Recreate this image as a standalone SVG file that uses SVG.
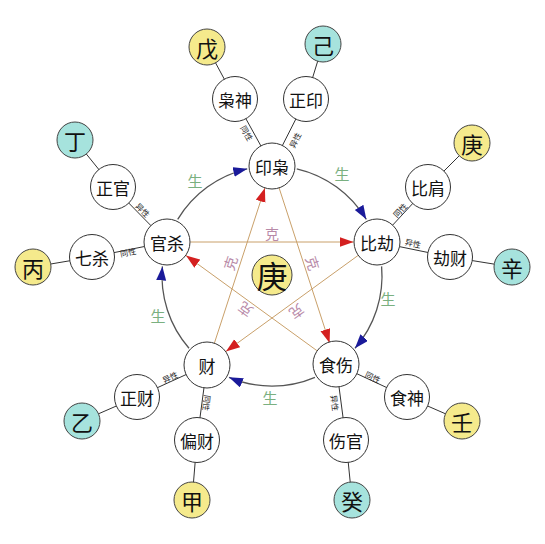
<svg xmlns="http://www.w3.org/2000/svg" width="545" height="544" viewBox="0 0 545 544">
<style>
text{font-family:"Noto Sans CJK SC","Noto Sans",sans-serif;text-anchor:middle;dominant-baseline:central}
.n{fill:#fff;stroke:#333;stroke-width:1}
.y{fill:#f5ea8c;stroke:#444;stroke-width:1}
.t{fill:#a6e3dd;stroke:#444;stroke-width:1}
.nt{font-size:17px;fill:#111}
.et{font-size:22px;fill:#111}
.lk{stroke:#333;stroke-width:1;fill:none}
.sm{font-size:8px;fill:#222}
.arc{stroke:#555;stroke-width:1.3;fill:none;marker-end:url(#ba)}
.st{stroke:#c9a06a;stroke-width:1;fill:none;marker-end:url(#ra)}
.ke{font-size:14px;fill:#b88aa8}
.sh{font-size:15px;fill:#7ab080}
</style>
<defs>
<marker id="ba" markerUnits="userSpaceOnUse" markerWidth="15" markerHeight="11" refX="14" refY="5" orient="auto"><path d="M0,0 L14,5 L0,10 z" fill="#1a1a9a"/></marker>
<marker id="ra" markerUnits="userSpaceOnUse" markerWidth="15" markerHeight="11" refX="14" refY="5" orient="auto"><path d="M0,0 L14,5 L0,10 z" fill="#d42020"/></marker>
</defs>
<rect width="545" height="544" fill="#fff"/>
<g id="connectors">
<path class="arc" d="M177.7,219.35 A110,110 0 0 1 247.25,168.8"/>
<path class="arc" d="M296.75,168.8 A110,110 0 0 1 366.3,219.35"/>
<path class="arc" d="M381.6,266.4 A110,110 0 0 1 355,348.2"/>
<path class="arc" d="M315,377.3 A110,110 0 0 1 229,377.3"/>
<path class="arc" d="M189,348.2 A110,110 0 0 1 162.4,266.4"/>
<path class="st" d="M190.4,242 L353.6,242"/>
<path class="st" d="M358,255.5 L225.9,351.5"/>
<path class="st" d="M214.4,343.1 L264.9,187.9"/>
<path class="st" d="M279.1,187.9 L329.6,343.1"/>
<path class="st" d="M318.1,351.5 L186,255.5"/>
<line class="lk" x1="272" y1="166" x2="235" y2="99"/>
<line class="lk" x1="272" y1="166" x2="306" y2="99"/>
<line class="lk" x1="235" y1="99" x2="207" y2="47"/>
<line class="lk" x1="306" y1="99" x2="323" y2="44"/>
<line class="lk" x1="167" y1="242" x2="113" y2="187"/>
<line class="lk" x1="167" y1="242" x2="92" y2="257"/>
<line class="lk" x1="113" y1="187" x2="75" y2="140"/>
<line class="lk" x1="92" y1="257" x2="33" y2="267"/>
<line class="lk" x1="377" y1="242" x2="428" y2="187"/>
<line class="lk" x1="377" y1="242" x2="450" y2="257"/>
<line class="lk" x1="428" y1="187" x2="472" y2="143"/>
<line class="lk" x1="450" y1="257" x2="512" y2="267"/>
<line class="lk" x1="207" y1="365" x2="137" y2="397"/>
<line class="lk" x1="207" y1="365" x2="197" y2="440"/>
<line class="lk" x1="137" y1="397" x2="82" y2="421"/>
<line class="lk" x1="197" y1="440" x2="192" y2="500"/>
<line class="lk" x1="336" y1="364" x2="407" y2="397"/>
<line class="lk" x1="336" y1="364" x2="346" y2="440"/>
<line class="lk" x1="407" y1="397" x2="462" y2="421"/>
<line class="lk" x1="346" y1="440" x2="352" y2="500"/>
<text class="sm" transform="translate(247,133) rotate(61)">同性</text>
<text class="sm" transform="translate(295,140) rotate(-63)">异性</text>
<text class="sm" transform="translate(143,210) rotate(45)">异性</text>
<text class="sm" transform="translate(128,252) rotate(-11)">同性</text>
<text class="sm" transform="translate(400,210) rotate(-47)">同性</text>
<text class="sm" transform="translate(413,243) rotate(12)">异性</text>
<text class="sm" transform="translate(170,377) rotate(-25)">异性</text>
<text class="sm" transform="translate(207,403) rotate(97)">同性</text>
<text class="sm" transform="translate(373,377) rotate(25)">同性</text>
<text class="sm" transform="translate(335,403) rotate(82)">异性</text>
<text class="ke" transform="translate(272,233)">克</text>
<text class="ke" transform="translate(230,263) rotate(-72)">克</text>
<text class="ke" transform="translate(313,263) rotate(72)">克</text>
<text class="ke" transform="translate(245,310) rotate(-144)">克</text>
<text class="ke" transform="translate(297,312) rotate(144)">克</text>
<text class="sh" x="195" y="180">生</text>
<text class="sh" x="342" y="173">生</text>
<text class="sh" x="388" y="298">生</text>
<text class="sh" x="158" y="315">生</text>
<text class="sh" x="270" y="397">生</text>
</g>
<g id="center"><circle class="y" cx="272" cy="275" r="20"/><text x="272" y="274" style="font-size:31px;fill:#111">庚</text></g>
<g id="yinxiao"><circle class="n" cx="272" cy="166" r="23"/><text class="nt" x="272" y="166">印枭</text></g>
<g id="bijie"><circle class="n" cx="377" cy="242" r="23"/><text class="nt" x="377" y="242">比劫</text></g>
<g id="shishang"><circle class="n" cx="336" cy="364" r="23"/><text class="nt" x="336" y="364">食伤</text></g>
<g id="cai"><circle class="n" cx="207" cy="365" r="23"/><text class="nt" x="207" y="365">财</text></g>
<g id="guansha"><circle class="n" cx="167" cy="242" r="23"/><text class="nt" x="167" y="242">官杀</text></g>
<g id="xiaoshen"><circle class="n" cx="235" cy="99" r="22.5"/><text class="nt" x="235" y="99">枭神</text></g>
<g id="zhengyin"><circle class="n" cx="306" cy="99" r="22.5"/><text class="nt" x="306" y="99">正印</text></g>
<g id="zhengguan"><circle class="n" cx="113" cy="187" r="22.5"/><text class="nt" x="113" y="187">正官</text></g>
<g id="qisha"><circle class="n" cx="92" cy="257" r="22.5"/><text class="nt" x="92" y="257">七杀</text></g>
<g id="bijian"><circle class="n" cx="428" cy="187" r="22.5"/><text class="nt" x="428" y="187">比肩</text></g>
<g id="jiecai"><circle class="n" cx="450" cy="257" r="22.5"/><text class="nt" x="450" y="257">劫财</text></g>
<g id="zhengcai"><circle class="n" cx="137" cy="397" r="22.5"/><text class="nt" x="137" y="397">正财</text></g>
<g id="piancai"><circle class="n" cx="197" cy="440" r="22.5"/><text class="nt" x="197" y="440">偏财</text></g>
<g id="shishen"><circle class="n" cx="407" cy="397" r="22.5"/><text class="nt" x="407" y="397">食神</text></g>
<g id="shangguan"><circle class="n" cx="346" cy="440" r="22.5"/><text class="nt" x="346" y="440">伤官</text></g>
<g id="wu"><circle class="y" cx="207" cy="47" r="18"/><text class="et" x="207" y="47">戊</text></g>
<g id="ji"><circle class="t" cx="323" cy="44" r="18"/><text class="et" x="323" y="44">己</text></g>
<g id="ding"><circle class="t" cx="75" cy="140" r="18"/><text class="et" x="75" y="140">丁</text></g>
<g id="bing"><circle class="y" cx="33" cy="267" r="18"/><text class="et" x="33" y="267">丙</text></g>
<g id="geng"><circle class="y" cx="472" cy="143" r="18"/><text class="et" x="472" y="143">庚</text></g>
<g id="xin"><circle class="t" cx="512" cy="267" r="18"/><text class="et" x="512" y="267">辛</text></g>
<g id="yi"><circle class="t" cx="82" cy="421" r="18"/><text class="et" x="82" y="421">乙</text></g>
<g id="jia"><circle class="y" cx="192" cy="500" r="18"/><text class="et" x="192" y="500">甲</text></g>
<g id="ren"><circle class="y" cx="462" cy="421" r="18"/><text class="et" x="462" y="421">壬</text></g>
<g id="gui"><circle class="t" cx="352" cy="500" r="18"/><text class="et" x="352" y="500">癸</text></g>
</svg>
